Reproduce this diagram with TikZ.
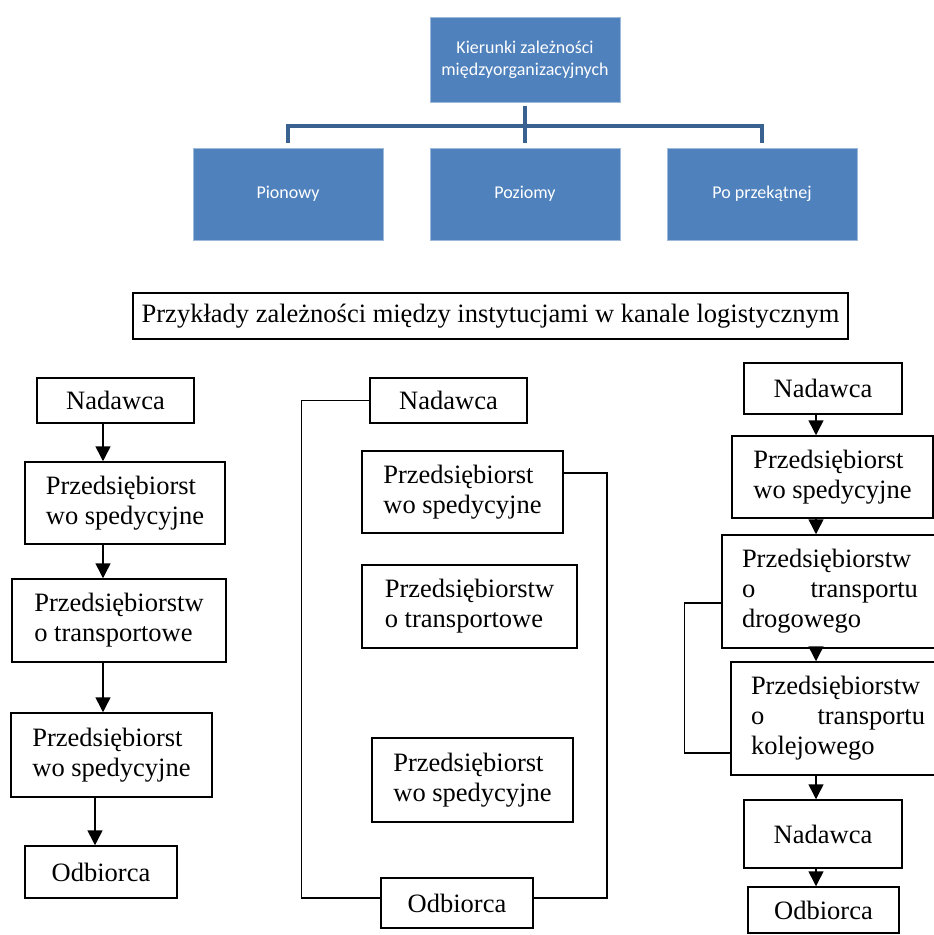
\documentclass[tikz,border=0pt]{standalone}
\usepackage{fontspec}
\setmainfont{Liberation Serif}
\newfontfamily\calibri{Carlito}
\usepackage{tikz}
\usetikzlibrary{arrows.meta}
\usetikzlibrary{positioning}
\definecolor{ofblue}{HTML}{4F81BD}
\definecolor{ofline}{HTML}{3A6291}
\begin{document}
\begin{tikzpicture}[x=1pt,y=-1pt,
		bluebox/.style={draw=ofblue!55!white,line width=0.8pt,fill=ofblue,text=white,align=center,
			minimum width=190pt,font=\calibri\fontsize{18}{22}\selectfont},
		orgline/.style={draw=ofline,line width=4.5pt},
		box/.style={draw,line width=1.5pt,inner sep=0pt,align=left,font=\fontsize{26.5}{30}\selectfont},
		wbox/.style={box,inner xsep=20pt},
		arr/.style={line width=1.5pt,-{Triangle[width=15pt,length=15pt]}},
		link/.style={line width=1.5pt}]
		\useasboundingbox (0,0) rectangle (934,935);
		\clip (0,0) rectangle (934,935);

		% kierunki
		\node[bluebox,minimum height=85pt] (T0) at (525,59.5) {Kierunki zależności\\międzyorganizacyjnych};
		\node[bluebox,minimum height=92pt] (T1) at (288,194) {Pionowy};
		\node[bluebox,minimum height=92pt] (T2) at (525,194) {Poziomy};
		\node[bluebox,minimum height=92pt] (T3) at (762,194) {Po przekątnej};
		\coordinate (bar) at (525,126);
		\draw[orgline] ([yshift=-4pt]T0.south) -- ([yshift=5pt]T2.north);
		\draw[orgline] ([yshift=5pt]T1.north) |- (bar) -| ([yshift=5pt]T3.north);

		\node[box,minimum width=715pt,minimum height=46pt,align=center] (tytul) at (490.5,316)
			{Przykłady zależności między instytucjami w kanale logistycznym};

		% lewa kolumna
		\node[box,minimum width=157pt,minimum height=45pt] (L1) at (115.5,400.5) {Nadawca};
		\node[box,minimum width=200pt,minimum height=82pt] (L2) at (125,503) {Przedsiębiorst\\wo spedycyjne};
		\node[box,minimum width=214pt,minimum height=83pt] (L3) at (119,620.5) {Przedsiębiorstw\\o transportowe};
		\node[box,minimum width=201pt,minimum height=84pt] (L4) at (111.5,755) {Przedsiębiorst\\wo spedycyjne};
		\node[box,minimum width=152pt,minimum height=52pt] (L5) at (101,872) {Odbiorca};
		\draw[arr] (L1.south -| 103,0) -- (L2.north -| 103,0);
		\draw[arr] (L2.south -| 103,0) -- (L3.north -| 103,0);
		\draw[arr] (L3.south -| 103,0) -- (L4.north -| 103,0);
		\draw[arr] (L4.south -| 95,0) -- (L5.north -| 95,0);

		% srodkowa kolumna
		\node[box,minimum width=157pt,minimum height=45pt] (M1) at (448.5,400.5) {Nadawca};
		\node[box,minimum width=201pt,minimum height=82pt] (M2) at (462.5,492) {Przedsiębiorst\\wo spedycyjne};
		\node[box,minimum width=215pt,minimum height=83pt] (M3) at (469.5,606.5) {Przedsiębiorstw\\o transportowe};
		\node[box,minimum width=201pt,minimum height=84pt] (M4) at (472.5,780) {Przedsiębiorst\\wo spedycyjne};
		\node[box,minimum width=152pt,minimum height=50pt] (M5) at (457,903) {Odbiorca};
		\draw[link] (M1.west) -- ++(-68,0) |- ([yshift=5pt]M5.west);
		\draw[link] ([yshift=19pt]M2.east) -- ++(43,0) |- ([yshift=5pt]M5.east);

		% prawa kolumna
		\node[box,minimum width=158pt,minimum height=51pt] (R1) at (823,388.5) {Nadawca};
		\node[box,minimum width=201pt,minimum height=82pt] (R2) at (832.5,477) {Przedsiębiorst\\wo spedycyjne};
		\node[wbox,text width=176pt,minimum height=113pt] (R3) at (830,591.5) {Przedsiębiorstw\\o\hfill transportu\\drogowego};
		\node[wbox,text width=174pt,minimum height=113pt] (R4) at (838,718.5) {Przedsiębiorstw\\o\hfill transportu\\kolejowego};
		\node[box,minimum width=158pt,minimum height=68pt] (R5) at (823,834) {Nadawca};
		\node[box,minimum width=151pt,minimum height=46pt] (R6) at (823.5,910) {Odbiorca};
		\draw[arr] (R1.south -| 816,0) -- (R2.north -| 816,0);
		\draw[arr] (R2.south -| 816,0) -- (R3.north -| 816,0);
		\draw[arr] (R3.south -| 816,0) -- (R4.north -| 816,0);
		\draw[arr] (R4.south -| 816,0) -- (R5.north -| 816,0);
		\draw[arr] (R5.south -| 816,0) -- (R6.north -| 816,0);
		\draw[link] ([yshift=-11.5pt]R3.west) -- ++(-37,0) |- ([yshift=-34.5pt]R4.west);
	\end{tikzpicture}
\end{document}
